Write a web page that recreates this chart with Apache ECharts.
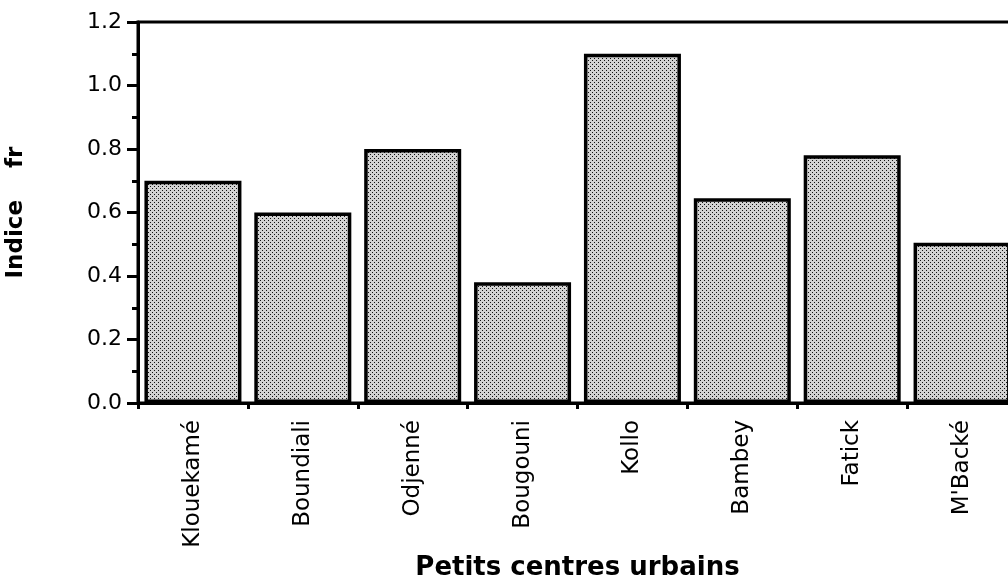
<!DOCTYPE html>
<html>
<head>
<meta charset="utf-8">
<script src="https://cdn.jsdelivr.net/npm/echarts@6/dist/echarts.min.js"></script>
<style>
  html, body { margin: 0; padding: 0; background: #fff; }
  #chart { width: 1008px; height: 584px; }
</style>
</head>
<body>
<div id="chart"></div>
<script>
// petits centres urbains et indice fr
var centres = ['Klouekamé', 'Boundiali', 'Odjenné', 'Bougouni', 'Kollo', 'Bambey', 'Fatick', "M'Backé"];
var indiceFr = [0.70, 0.60, 0.80, 0.38, 1.10, 0.645, 0.78, 0.505];

// trame pointillée grise des barres
function makeStipple() {
    var c = document.createElement('canvas');
    c.width = 4;
    c.height = 4;
    var ctx = c.getContext('2d');
    ctx.fillStyle = '#d2d2d2';
    ctx.fillRect(0, 0, 4, 4);
    ctx.fillStyle = '#111';
    ctx.fillRect(0, 0, 1, 1);
    ctx.fillRect(2, 2, 1, 1);
    return c;
}

var myChart = echarts.init(document.getElementById('chart'));
var font = 'DejaVu Sans';

var option = {
    animation: false,
    backgroundColor: '#fff',
    grid: {
        left: 138,
        right: -9,
        top: 22,
        bottom: 181,
        outerBoundsMode: 'none',
        containLabel: false,
        show: true,
        borderColor: '#000',
        borderWidth: 3,
        backgroundColor: 'transparent'
    },
    xAxis: {
        type: 'category',
        data: centres,
        name: 'Petits centres urbains',
        nameLocation: 'middle',
        nameGap: 151,
        nameTextStyle: { fontFamily: font, fontSize: 26, fontWeight: 'bold', color: '#000' },
        axisLine: { lineStyle: { color: '#000', width: 3 } },
        axisTick: { show: true, interval: 0, length: 6, lineStyle: { color: '#000', width: 3 } },
        axisLabel: {
            interval: 0,
            rotate: 90,
            margin: 17,
            fontFamily: font,
            fontSize: 23,
            color: '#000'
        }
    },
    yAxis: {
        type: 'value',
        min: 0,
        max: 1.2,
        interval: 0.2,
        name: 'Indice    fr',
        nameLocation: 'middle',
        nameGap: 110,
        nameRotate: 90,
        nameTextStyle: { fontFamily: font, fontSize: 23, fontWeight: 'bold', color: '#000' },
        axisLine: { show: true, lineStyle: { color: '#000', width: 3 } },
        axisTick: { show: true, length: 11, lineStyle: { color: '#000', width: 3 } },
        minorTick: { show: true, splitNumber: 2, length: 6, lineStyle: { color: '#000', width: 3 } },
        splitLine: { show: false },
        axisLabel: {
            margin: 16,
            fontFamily: font,
            fontSize: 22,
            color: '#000',
            formatter: function (v) { return v.toFixed(1); }
        }
    },
    series: [
        {
            type: 'bar',
            data: indiceFr,
            barWidth: 97,
            itemStyle: {
                color: { image: makeStipple(), repeat: 'repeat' },
                borderColor: '#000',
                borderWidth: 3.5
            }
        }
    ]
};

myChart.setOption(option);
</script>
</body>
</html>
